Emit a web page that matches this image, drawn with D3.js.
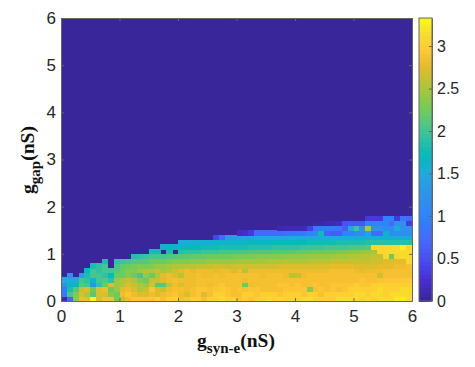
<!DOCTYPE html>
<html><head><meta charset="utf-8">
<script src="https://cdnjs.cloudflare.com/ajax/libs/d3/7.8.5/d3.min.js"></script>
<style>html,body{margin:0;padding:0;background:#fff}svg{display:block}</style>
</head><body><svg id="c" width="475" height="367"></svg>
<script>
const xTicks=[0,1,2,3,4,5,6], yTicks=[0,1,2,3,4,5,6], cTicks=[0,0.5,1,1.5,2,2.5,3];
const cMax=3.33, cellStep=0.1;
const parula=[[58,38,155],[71,44,207],[71,72,240],[70,104,253],[44,131,252],[46,146,236],[32,169,220],[2,187,189],[60,195,157],[110,205,90],[170,199,57],[231,187,41],[254,197,53],[248,222,42],[249,251,21]];
const stopAt=[0,.0625,.127,.206,.285,.365,.444,.508,.587,.667,.746,.825,.873,.937,1];
// rows bottom to top, 60 columns each; value per cell
const row00=[.1,.7,2.3,2.8,2.8,3.3,2.7,2.85,2.85,2.2, 2.6,2.8,2.9,2.9,2.9,2.9,3.0,2.85,3.0,3.0, 2.85,2.9,3.0,3.0,2.85,3.0,3.0,3.1,3.0,3.0, 2.9,3.0,2.9,3.0,3.0,3.1,3.0,3.1,3.0,3.0, 3.0,3.1,3.1,3.0,3.0,3.0,3.0,3.1,3.1,3.1, 3.1,3.0,3.1,3.0,3.1,3.1,3.1,3.2,3.2,3.1];
const row01=[.8,2.0,2.3,2.7,2.5,2.1,2.7,2.7,2.3,2.2, 2.8,2.9,2.8,2.7,2.7,2.8,2.7,2.8,2.85,2.9, 2.8,2.7,2.85,2.9,2.7,2.85,3.0,3.0,2.9,2.85, 2.85,3.0,3.0,2.9,3.0,3.0,3.0,2.9,3.0,3.0, 3.0,2.9,3.0,3.0,2.85,3.0,3.0,3.0,3.0,3.0, 3.1,3.1,3.0,3.1,3.1,3.0,3.1,3.1,3.1,3.1];
const row02=[.9,1.8,2.1,2.6,2.7,2.2,2.7,2.8,2.2,2.4, 2.75,2.8,2.7,2.5,2.6,2.9,2.7,2.6,2.8,2.85, 2.85,2.8,2.85,2.9,2.9,2.85,2.9,2.95,2.9,2.85, 2.9,2.85,2.9,2.9,2.85,2.85,2.85,2.85,2.9,2.9, 2.9,2.9,2.35,2.85,2.9,2.85,2.9,2.85,2.9,3.0, 3.0,3.0,3.0,3.0,3.1,3.0,3.0,3.0,3.1,3.1];
const row03=[1.2,1.6,1.7,2.1,2.0,1.2,1.9,2.2,2.7,2.4, 2.5,2.7,2.6,2.5,2.4,2.7,2.1,2.1,2.6,2.8, 2.7,2.8,2.8,2.85,2.85,2.8,2.85,2.9,2.85,2.85, 2.85,2.2,2.8,2.85,2.85,2.85,2.85,2.9,2.9,2.85, 2.9,2.85,2.85,2.9,2.85,2.85,2.9,2.9,2.9,2.9, 3.0,2.9,2.9,3.0,3.0,3.0,3.0,3.0,3.0,3.0];
const row04=[1.5,1.5,1.5,2.0,1.9,1.6,2.0,2.1,1.9,2.4, 2.5,2.6,2.5,2.3,2.2,2.6,2.6,2.7,2.8,2.85, 2.8,2.8,2.8,2.85,2.85,2.85,2.85,2.85,2.85,2.85, 2.85,2.8,2.85,2.85,2.85,2.85,2.85,2.85,2.85,2.85, 2.85,2.85,2.85,2.85,2.85,2.85,2.85,2.85,2.85,2.85, 2.85,2.9,2.85,2.85,2.9,2.9,2.9,2.9,2.95,2.95];
const row05=[0,1.2,0,1.3,1.8,2.0,2.0,1.9,1.7,2.2, 2.2,2.3,2.2,2.0,2.4,2.2,2.5,2.75,2.8,2.7, 2.55,2.8,2.8,2.85,2.8,2.8,2.85,2.8,2.85,2.85, 2.85,2.85,2.85,2.85,2.8,2.85,2.85,2.85,2.8,2.55, 2.6,2.8,2.85,2.85,2.85,2.85,2.85,2.85,2.85,2.85, 2.85,2.85,2.85,2.85,2.65,2.85,2.85,2.85,2.85,2.85];
const row06=[0,0,0,0,1.7,2.0,1.9,2.0,2.0,2.1, 2.2,2.3,2.3,2.4,2.5,2.5,2.6,2.45,2.55,2.65, 2.75,2.8,2.75,2.8,2.8,2.8,2.75,2.8,2.8,2.7, 2.8,2.5,2.8,2.8,2.8,2.8,2.8,2.8,2.8,2.8, 2.8,2.8,2.8,2.8,2.8,2.8,2.85,2.85,2.85,2.85, 2.8,2.75,2.8,2.8,2.8,2.85,2.85,2.85,2.85,2.85];
const row07=[0,0,0,0,0,1.8,1.9,2.0,0,2.0, 2.15,2.2,2.25,2.3,2.25,2.3,2.4,2.4,2.45,2.5, 2.5,2.55,2.55,2.6,2.6,2.6,2.65,2.65,2.6,2.65, 2.65,2.65,2.65,2.65,2.65,2.65,2.65,2.7,2.7,2.7, 2.7,2.7,2.7,2.7,2.7,2.7,2.75,2.75,2.75,2.75, 2.7,2.7,2.7,2.7,2.75,2.75,2.75,2.8,2.8,2.85];
const row08=[0,0,0,0,0,0,0,1.8,0,1.9, 1.95,2.0,2.1,2.1,2.1,2.2,2.2,2.2,2.25,2.3, 2.3,2.3,2.35,2.35,2.35,2.4,2.4,2.4,2.4,2.4, 2.45,2.45,2.45,2.45,2.45,2.5,2.5,2.5,2.5,2.5, 2.5,2.5,2.55,2.55,2.55,2.55,2.6,2.6,2.6,2.6, 2.6,2.6,2.6,2.65,2.65,2.7,2.7,2.75,2.75,3.05];
const row09=[0,0,0,0,0,0,0,0,0,0, 0,0,1.85,1.9,1.95,2.0,2.0,2.0,2.05,2.05, 2.1,2.1,2.15,2.15,2.15,2.2,2.2,2.2,2.2,2.25, 2.25,2.25,2.25,2.3,2.3,2.3,2.3,2.3,2.35,2.35, 2.35,2.35,2.4,2.4,2.4,2.4,2.45,2.45,2.45,2.5, 2.5,2.55,2.55,2.6,2.6,3.05,2.2,3.05,3.1,3.05];
const row10=[0,0,0,0,0,0,0,0,0,0, 0,0,0,0,0,1.75,1.75,0,1.8,0, 1.85,1.9,1.9,1.9,1.95,1.95,1.95,2.0,2.0,2.0, 2.0,2.0,2.05,2.05,2.05,2.05,2.1,2.1,2.1,2.1, 2.15,2.15,2.15,2.2,2.2,2.2,2.2,2.25,2.25,2.3, 2.3,2.35,2.4,2.45,3.05,3.05,3.1,3.1,3.1,3.1];
const row11=[0,0,0,0,0,0,0,0,0,0, 0,0,0,0,0,0,0,1.6,1.65,1.65, 1.65,1.7,1.7,1.7,1.75,1.75,1.75,1.8,1.8,1.8, 1.8,1.8,1.85,1.85,1.85,1.85,1.9,1.9,1.9,1.9, 1.9,1.95,1.95,1.95,1.95,2.0,2.0,2.0,2.0,2.05, 2.05,2.05,2.1,3.05,3.05,3.05,3.05,3.1,3.25,3.05];
const row12=[0,0,0,0,0,0,0,0,0,0, 0,0,0,0,0,0,0,0,0,0, 1.5,1.5,1.55,1.55,1.55,1.55,1.6,1.6,1.6,1.6, 1.6,1.6,1.65,1.65,1.65,1.65,1.7,1.7,1.7,1.7, 1.7,1.7,1.75,1.75,1.75,1.75,1.75,1.8,1.8,1.8, 1.8,1.8,1.85,1.85,1.85,1.85,1.85,1.85,1.85,1.85];
const row13=[0,0,0,0,0,0,0,0,0,0, 0,0,0,0,0,0,0,0,0,0, 0,0,0,0,0,0,.4,.7,1.35,1.35, 1.4,1.4,1.4,1.45,1.45,1.45,1.45,1.45,1.45,1.5, 1.5,1.5,1.5,1.5,1.5,1.5,1.5,1.5,1.5,1.5, 1.55,1.55,1.55,1.55,1.55,1.55,1.55,1.55,1.55,1.55];
const row14=[0,0,0,0,0,0,0,0,0,0, 0,0,0,0,0,0,0,0,0,0, 0,0,0,0,0,0,0,0,0,0, .15,.2,.3,.7,.7,.7,.7,.7,.75,.8, .8,.85,1.0,1.05,1.75,.65,.6,.6,1.0,1.0, 1.1,1.1,1.4,.7,.7,1.65,1.15,1.15,1.15,1.15];
const row15=[0,0,0,0,0,0,0,0,0,0, 0,0,0,0,0,0,0,0,0,0, 0,0,0,0,0,0,0,0,0,0, 0,0,0,0,0,0,0,.08,.1,.1, .1,.12,.35,.85,.9,.9,.85,.85,.6,1.5, 1.95,1.2,2.5,1.2,1.2,1.1,1.1,1.5,1.2,1.2];
const row16=[0,0,0,0,0,0,0,0,0,0, 0,0,0,0,0,0,0,0,0,0, 0,0,0,0,0,0,0,0,0,0, 0,0,0,0,0,0,0,0,0,0, 0,0,0,.05,.05,.08,.1,.15,.5,.55, .55,.55,1.0,1.0,1.0,1.0,.7,1.2,1.2,.3];
const row17=[0,0,0,0,0,0,0,0,0,0, 0,0,0,0,0,0,0,0,0,0, 0,0,0,0,0,0,0,0,0,0, 0,0,0,0,0,0,0,0,0,0, 0,0,0,0,0,0,0,0,0,0, 0,0,.3,.3,.3,.95,.95,.3,.8,.7];
const rows=[row00,row01,row02,row03,row04,row05,row06,row07,row08,row09,row10,row11,row12,row13,row14,row15,row16,row17];

const L=61,R=412,T=18,B=301,CL=419,CR=432;
const x=d3.scaleLinear().domain([0,6]).range([L,R]);
const y=d3.scaleLinear().domain([0,6]).range([B,T]);
const cy=d3.scaleLinear().domain([0,cMax]).range([B,T]);
const color=d3.scaleLinear().domain(stopAt.map(s=>s*cMax)).range(parula.map(c=>d3.rgb(c[0],c[1],c[2]))).clamp(true);
const svg=d3.select('#c');
const sans='"Liberation Sans",Arial,sans-serif', serif='"Liberation Serif","Times New Roman",serif';
svg.append('rect').attr('x',L).attr('y',T).attr('width',R-L).attr('height',B-T).attr('fill',color(0));
const cells=rows.flatMap((r,j)=>r.map((v,i)=>({i,j,v}))).filter(d=>d.v>0);
svg.append('g').attr('shape-rendering','crispEdges').selectAll('rect').data(cells).join('rect')
 .attr('x',d=>x(d.i*cellStep)).attr('y',d=>y((d.j+1)*cellStep))
 .attr('width',x(cellStep)-x(0)+.6).attr('height',y(0)-y(cellStep)+.6).attr('fill',d=>color(d.v));
// colorbar
const bands=d3.range(0,cMax,cMax/64);
svg.append('g').attr('shape-rendering','crispEdges').selectAll('rect').data(bands).join('rect')
 .attr('x',CL).attr('width',CR-CL).attr('y',d=>cy(d+cMax/64)).attr('height',cy(0)-cy(cMax/64)+.6).attr('fill',d=>color(d));
function style(g,fs){
 g.selectAll('text').attr('font-family',sans).attr('font-size',fs).attr('fill','#262626');
 g.selectAll('line').attr('stroke','#666');
 g.select('.domain').attr('stroke','#666');
}
const gb=svg.append('g').attr('transform',`translate(0,${B})`).call(d3.axisBottom(x).tickValues(xTicks).tickFormat(d3.format('d')).tickSize(-3).tickPadding(9).tickSizeOuter(0));style(gb,17);
const gl=svg.append('g').attr('transform',`translate(${L},0)`).call(d3.axisLeft(y).tickValues(yTicks).tickFormat(d3.format('d')).tickSize(-3).tickPadding(5).tickSizeOuter(0));style(gl,17);
const gt=svg.append('g').attr('transform',`translate(0,${T})`).call(d3.axisTop(x).tickValues(xTicks).tickFormat('').tickSize(-3).tickSizeOuter(0));style(gt,17);
const gr=svg.append('g').attr('transform',`translate(${R},0)`).call(d3.axisRight(y).tickValues(yTicks).tickFormat('').tickSize(-3).tickSizeOuter(0));style(gr,17);
const gc=svg.append('g').attr('transform',`translate(${CR},0)`).call(d3.axisRight(cy).tickValues(cTicks).tickFormat(d3.format('')).tickSize(-3).tickPadding(5).tickSizeOuter(0));style(gc,16);
svg.append('rect').attr('x',CL).attr('y',T).attr('width',CR-CL).attr('height',B-T).attr('fill','none').attr('stroke','#666');
// axis labels
const xl=svg.append('text').attr('x',236).attr('y',347).attr('text-anchor','middle').attr('font-family',serif).attr('font-weight','bold').attr('font-size',19.5).attr('fill','#111');
xl.append('tspan').text('g');
xl.append('tspan').text('syn-e').attr('font-size',15).attr('dy',6);
xl.append('tspan').text('(nS)').attr('dy',-6);
const yl=svg.append('text').attr('transform','translate(34,160) rotate(-90)').attr('text-anchor','middle').attr('font-family',serif).attr('font-weight','bold').attr('font-size',19.5).attr('fill','#111');
yl.append('tspan').text('g');
yl.append('tspan').text('gap').attr('font-size',15).attr('dy',6);
yl.append('tspan').text('(nS)').attr('dy',-6);
</script></body></html>
